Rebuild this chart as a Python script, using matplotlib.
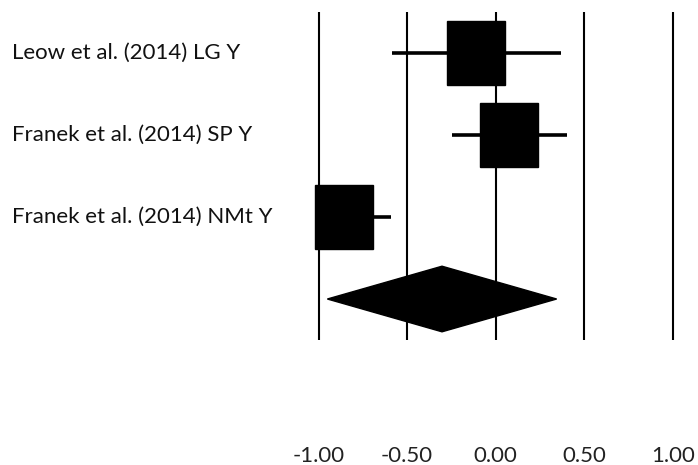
import matplotlib
matplotlib.use("Agg")
import matplotlib.pyplot as plt
from matplotlib.patches import Rectangle, Polygon
from matplotlib.transforms import blended_transform_factory

# effect sizes with 95% CI, one row per study
studies = ["Leow et al. (2014) LG Y",
           "Franek et al. (2014) SP Y",
           "Franek et al. (2014) NMt Y"]
est = [-0.11, 0.076, -0.855]
ci_lo = [-0.587, -0.248, -1.15]
ci_hi = [0.367, 0.40, -0.59]

# pooled estimate
pooled_est = -0.303
pooled_lo = -0.95
pooled_hi = 0.344

ticks = [-1.0, -0.5, 0.0, 0.5, 1.0]
tick_labels = ["-1.00", "-0.50", "0.00", "0.50", "1.00"]

plt.rcParams['font.family'] = ['Lato', 'DejaVu Sans']

fig = plt.figure(figsize=(6.98, 4.65), dpi=100)
ax = fig.add_axes([0.452, 0.2688, 0.5171, 0.7054])
ax.set_xlim(-1.017, 1.02)
ax.set_ylim(4.5, 0.5)

for t in ticks:
    ax.axvline(t, color="black", lw=1.5, zorder=1)

box_w = 0.325
box_h = 0.78
for i, (e, lo, hi) in enumerate(zip(est, ci_lo, ci_hi)):
    y = i + 1
    ax.plot([lo, hi], [y, y], color="black", lw=2.6, solid_capstyle="butt", zorder=2)
    ax.add_patch(Rectangle((e - box_w / 2, y - box_h / 2), box_w, box_h,
                           facecolor="black", edgecolor="black", zorder=3, clip_on=False))

yd = len(studies) + 1
ax.add_patch(Polygon([(pooled_lo, yd), (pooled_est, yd - 0.4),
                      (pooled_hi, yd), (pooled_est, yd + 0.4)],
                     closed=True, facecolor="black", edgecolor="black", zorder=3))

ax.set_xticks(ticks)
ax.set_xticklabels(tick_labels, fontsize=16, color="#222222")
ax.tick_params(axis="x", length=0, pad=76)
ax.set_yticks([])
for s in ax.spines.values():
    s.set_visible(False)

trans = blended_transform_factory(fig.transFigure, ax.transData)
for i, name in enumerate(studies):
    ax.text(0.017, i + 1, name, transform=trans, ha="left", va="center",
            fontsize=16, color="#111111")

fig.savefig("out.png", dpi=100)
